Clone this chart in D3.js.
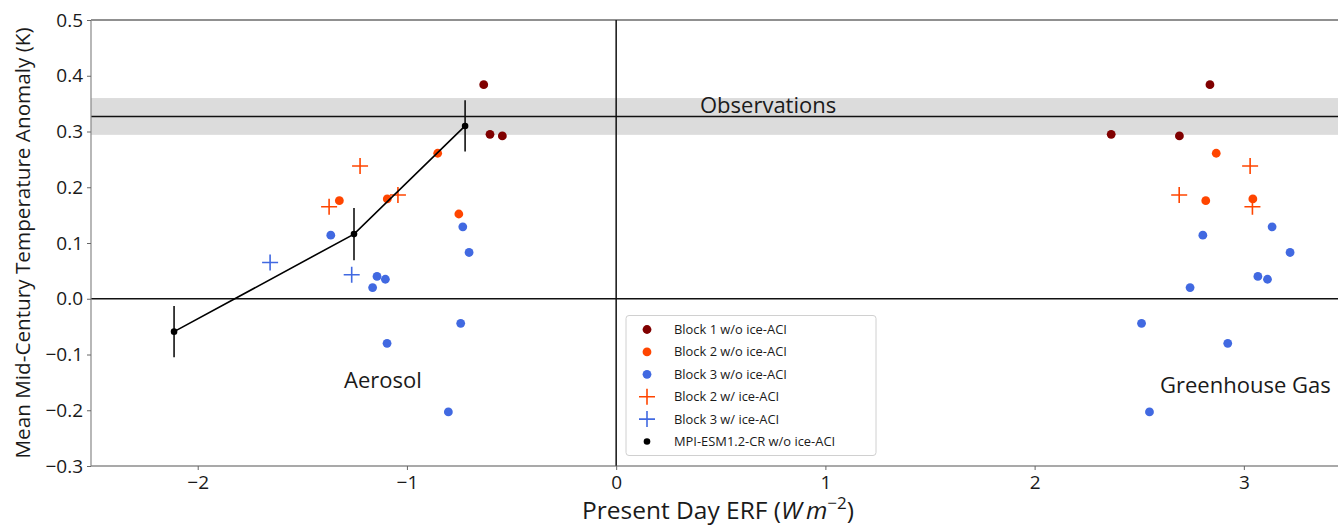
<!DOCTYPE html>
<html>
<head>
<meta charset="utf-8">
<script src="https://cdn.jsdelivr.net/npm/d3@7"></script>
<style>
  body { margin: 0; background: #fff; }
  text { font-family: "Open Sans", "DejaVu Sans", sans-serif; fill: #1a1a1a; }
</style>
</head>
<body>
<svg width="1338" height="525"></svg>
<script>
// each run has one temperature and two ERF values (aerosol, greenhouse gas)
const block1Temp = [0.384, 0.295, 0.292];
const block1Aer = [-0.633, -0.603, -0.544];
const block1Ghg = [2.838, 2.366, 2.692];

const block2Temp = [0.176, 0.179, 0.261, 0.152];
const block2Aer = [-1.323, -1.094, -0.853, -0.752];
const block2Ghg = [2.818, 3.043, 2.868, null];

const block3Temp = [0.114, 0.129, 0.083, 0.040, 0.035, 0.020, -0.080, -0.044, -0.203];
const block3Aer = [-1.364, -0.733, -0.703, -1.143, -1.103, -1.164, -1.095, -0.743, -0.802];
const block3Ghg = [2.804, 3.135, 3.221, 3.067, 3.113, 2.743, 2.923, 2.511, 2.549];

const block2IceTemp = [0.238, 0.165, 0.186];
const block2IceAer = [-1.224, -1.372, -1.043];
const block2IceGhg = [3.030, 3.041, 2.691];

const block3IceTemp = [0.065, 0.043];
const block3IceAer = [-1.654, -1.264];
const block3IceGhg = [null, null];

const mpiErf = [-2.113, -1.253, -0.722];
const mpiTemp = [-0.059, 0.116, 0.310];
const mpiErr = [0.046, 0.047, 0.046];

const obsTemp = 0.327;
const obsLow = 0.294;
const obsHigh = 0.360;

const xTicks = [-2, -1, 0, 1, 2, 3];
const yTicks = [-0.3, -0.2, -0.1, 0.0, 0.1, 0.2, 0.3, 0.4, 0.5];

const legendLabels = ['Block 1 w/o ice-ACI', 'Block 2 w/o ice-ACI', 'Block 3 w/o ice-ACI',
  'Block 2 w/ ice-ACI', 'Block 3 w/ ice-ACI', 'MPI-ESM1.2-CR w/o ice-ACI'];

const dark = '#800000', orange = '#ff4500', blue = '#4169e1';

const svg = d3.select('svg');
const pLeft = 91, pRight = 1338, pTop = 20, pBottom = 466;

const x = d3.scaleLinear().domain([-2.51, 3.45]).range([pLeft, pRight]);
const y = d3.scaleLinear().domain([-0.3, 0.5]).range([pBottom, pTop]);

svg.append('defs').append('clipPath').attr('id', 'plot')
  .append('rect').attr('x', pLeft).attr('y', pTop)
  .attr('width', pRight - pLeft).attr('height', pBottom - pTop);

const plot = svg.append('g').attr('clip-path', 'url(#plot)');

// observations band
plot.append('rect')
  .attr('x', pLeft).attr('width', pRight - pLeft)
  .attr('y', y(obsHigh)).attr('height', y(obsLow) - y(obsHigh))
  .attr('fill', '#dcdcdc');
plot.append('line')
  .attr('x1', pLeft).attr('x2', pRight)
  .attr('y1', y(obsTemp)).attr('y2', y(obsTemp))
  .attr('stroke', '#111').attr('stroke-width', 1.5);

// zero lines
plot.append('line')
  .attr('x1', pLeft).attr('x2', pRight).attr('y1', y(0)).attr('y2', y(0))
  .attr('stroke', '#111').attr('stroke-width', 1.5);
plot.append('line')
  .attr('x1', x(0)).attr('x2', x(0)).attr('y1', pTop).attr('y2', pBottom)
  .attr('stroke', '#111').attr('stroke-width', 1.5);

function pairs(temp, aer, ghg) {
  const out = [];
  temp.forEach((t, i) => {
    out.push([aer[i], t]);
    if (ghg[i] !== null) out.push([ghg[i], t]);
  });
  return out;
}

function dots(data, color, r) {
  plot.append('g').selectAll('circle').data(data).join('circle')
    .attr('cx', d => x(d[0])).attr('cy', d => y(d[1]))
    .attr('r', r).attr('fill', color);
}

const plusPath = s => `M${-s},0H${s}M0,${-s}V${s}`;

function pluses(data, color) {
  plot.append('g').selectAll('path').data(data).join('path')
    .attr('transform', d => `translate(${x(d[0])},${y(d[1])})`)
    .attr('d', plusPath(8))
    .attr('stroke', color).attr('stroke-width', 1.6).attr('fill', 'none');
}

dots(pairs(block1Temp, block1Aer, block1Ghg), dark, 4.4);
dots(pairs(block2Temp, block2Aer, block2Ghg), orange, 4.4);
dots(pairs(block3Temp, block3Aer, block3Ghg), blue, 4.4);
pluses(pairs(block2IceTemp, block2IceAer, block2IceGhg), orange);
pluses(pairs(block3IceTemp, block3IceAer, block3IceGhg), blue);

// MPI line with error bars
const mpi = mpiErf.map((e, i) => ({ x: e, y: mpiTemp[i], err: mpiErr[i] }));
plot.append('path')
  .attr('d', d3.line().x(d => x(d.x)).y(d => y(d.y))(mpi))
  .attr('fill', 'none').attr('stroke', '#000').attr('stroke-width', 1.6);
plot.append('g').selectAll('line').data(mpi).join('line')
  .attr('x1', d => x(d.x)).attr('x2', d => x(d.x))
  .attr('y1', d => y(d.y - d.err)).attr('y2', d => y(d.y + d.err))
  .attr('stroke', '#111').attr('stroke-width', 1.6);
dots(mpi.map(d => [d.x, d.y]), '#000', 3.3);

// spines
svg.append('line').attr('x1', pLeft).attr('x2', pRight).attr('y1', pTop).attr('y2', pTop)
  .attr('stroke', '#222').attr('stroke-width', 1.2);
svg.append('line').attr('x1', pLeft).attr('x2', pRight).attr('y1', pBottom).attr('y2', pBottom)
  .attr('stroke', '#555').attr('stroke-width', 1.2);
svg.append('line').attr('x1', pLeft).attr('x2', pLeft).attr('y1', pTop).attr('y2', pBottom)
  .attr('stroke', '#888').attr('stroke-width', 1.2);

// axes
const fmtMinus = s => s.replace('-', '\u2212');
const xAxis = svg.append('g').attr('transform', `translate(0,${pBottom})`)
  .call(d3.axisBottom(x).tickValues(xTicks).tickSize(4).tickPadding(6)
    .tickFormat(d => fmtMinus(d3.format('d')(d))));
const yAxis = svg.append('g').attr('transform', `translate(${pLeft},0)`)
  .call(d3.axisLeft(y).tickValues(yTicks).tickSize(4).tickPadding(4)
    .tickFormat(d => fmtMinus(d3.format('.1f')(d))));
[xAxis, yAxis].forEach(a => {
  a.select('.domain').remove();
  a.selectAll('.tick line').attr('stroke', '#666');
  a.selectAll('.tick text').style('font-size', '19px').attr('fill', '#1a1a1a')
    .style('font-family', '"Open Sans", sans-serif');
});

// axis titles
svg.append('text')
  .attr('transform', `translate(30,${(pTop + pBottom) / 2}) rotate(-90)`)
  .attr('text-anchor', 'middle')
  .style('font-size', '20.7px')
  .text('Mean Mid-Century Temperature Anomaly (K)');

const xl = svg.append('text')
  .attr('x', 718).attr('y', 519)
  .attr('text-anchor', 'middle')
  .style('font-size', '24.5px');
xl.append('tspan').text('Present Day ERF (');
xl.append('tspan').style('font-style', 'italic').text('W\u2009m');
xl.append('tspan').attr('dy', -10).style('font-size', '17px').text('\u22122');
xl.append('tspan').attr('dy', 10).text(')');

// annotations
svg.append('text').attr('x', 700).attr('y', 113).style('font-size', '22px').text('Observations');
svg.append('text').attr('x', 344).attr('y', 388).style('font-size', '22px').text('Aerosol');
svg.append('text').attr('x', 1160).attr('y', 393).style('font-size', '22px').text('Greenhouse Gas');

// legend
const legend = svg.append('g');
legend.append('rect')
  .attr('x', 626).attr('y', 315.5).attr('width', 250).attr('height', 140)
  .attr('rx', 3).attr('fill', '#fff').attr('stroke', '#d0d0d0');
const legendMarks = [
  { type: 'dot', color: dark, r: 4.4 },
  { type: 'dot', color: orange, r: 4.4 },
  { type: 'dot', color: blue, r: 4.4 },
  { type: 'plus', color: orange },
  { type: 'plus', color: blue },
  { type: 'dot', color: '#000', r: 3.3 }
];
const rows = legend.selectAll('g.row').data(legendLabels).join('g')
  .attr('transform', (d, i) => `translate(647,${329.5 + i * 22.4})`);
rows.each(function(d, i) {
  const m = legendMarks[i];
  const row = d3.select(this);
  if (m.type === 'dot') row.append('circle').attr('r', m.r).attr('fill', m.color);
  else row.append('path').attr('d', plusPath(8)).attr('stroke', m.color)
    .attr('stroke-width', 1.6).attr('fill', 'none');
  row.append('text').attr('x', 27).attr('dy', '0.35em')
    .style('font-size', '12.9px').text(d);
});
</script>
</body>
</html>
